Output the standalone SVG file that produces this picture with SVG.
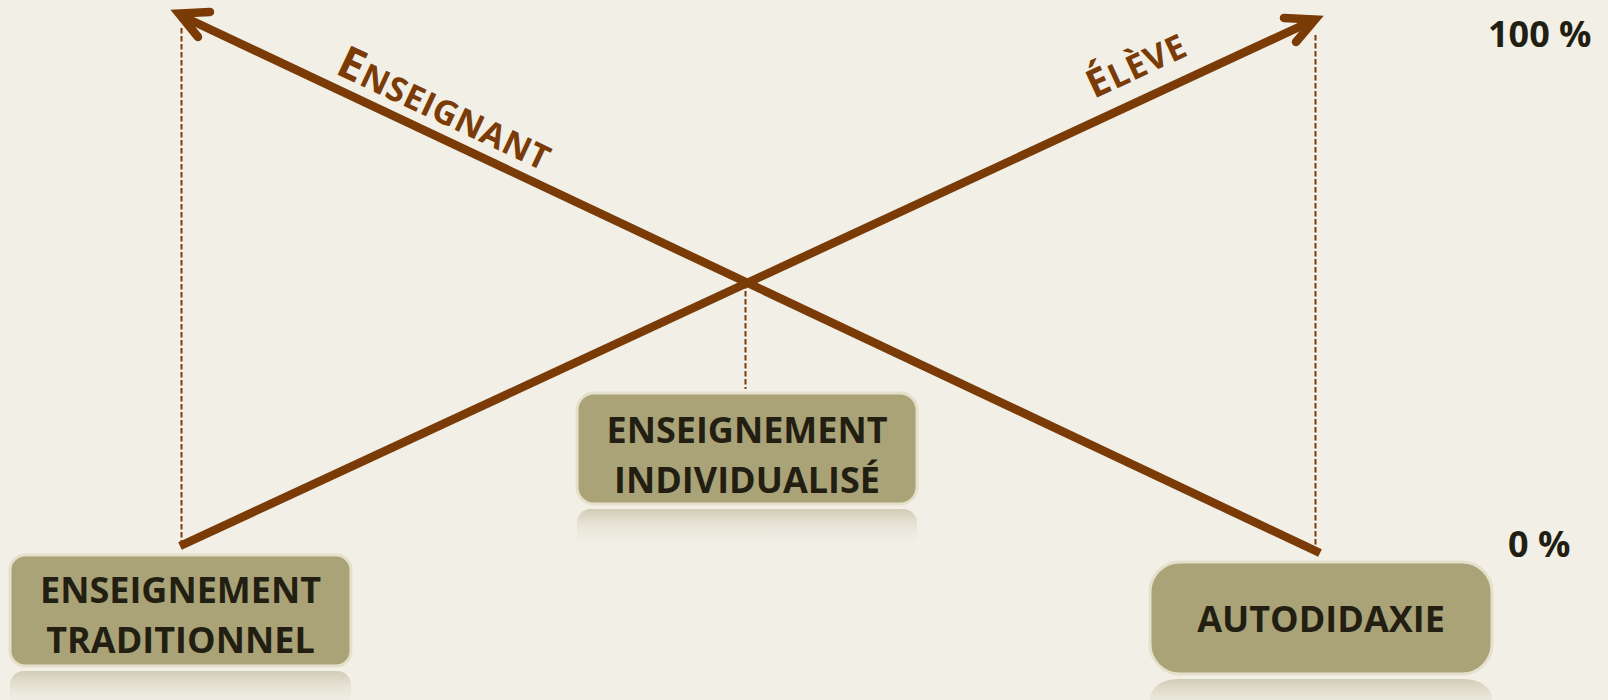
<svg xmlns="http://www.w3.org/2000/svg" width="1608" height="700" viewBox="0 0 1608 700">
<defs>
<linearGradient id="refl" x1="0" y1="0" x2="0" y2="1">
<stop offset="0" stop-color="#cdc8b0" stop-opacity="0.9"/>
<stop offset="1" stop-color="#f2efe7" stop-opacity="0"/>
</linearGradient>
<style>
.box{fill:#aba378;stroke:#e4e0cb;stroke-width:3}
.lbl{font-family:"Open Sans","Noto Sans",sans-serif;font-weight:700;font-size:36px;fill:#221f12;text-anchor:middle}
.pct{font-family:"Open Sans","Noto Sans",sans-serif;font-weight:700;font-size:36px;fill:#221f12}
.axis{font-family:"Open Sans","Noto Sans",sans-serif;font-weight:700;fill:#7a3b06}
.shaft{stroke:#7a3b06;stroke-width:8.5;fill:none;stroke-linecap:butt}
.head{stroke:#7a3b06;stroke-width:8.5;fill:none;stroke-linecap:round;stroke-linejoin:miter;stroke-miterlimit:10}
.dash{stroke:#7a3b06;stroke-width:2;fill:none;stroke-dasharray:5.5 2.5}
</style>
</defs>
<rect width="1608" height="700" fill="#f2efe7"/>
<g id="connectors">
<line class="dash" x1="181.5" y1="28" x2="181.5" y2="541"/>
<line class="dash" x1="1315.5" y1="35" x2="1315.5" y2="547"/>
<line class="dash" x1="745.5" y1="283" x2="745.5" y2="389"/>
<line class="shaft" x1="1320" y1="553" x2="184" y2="17"/>
<path class="head" d="M210,12 L179,13.5 L198,37"/>
<line class="shaft" x1="180" y1="546" x2="1312" y2="21"/>
<path class="head" d="M1284,18 L1315,19.5 L1296,42"/>
</g>
<g id="label-enseignant">
<text class="axis" transform="translate(334,73) rotate(25.2)"><tspan font-size="45" letter-spacing="1">E</tspan><tspan font-size="34" letter-spacing="0.6">NSEIGNANT</tspan></text>
</g>
<g id="label-eleve">
<text class="axis" transform="translate(1094,99) rotate(-24.9)"><tspan font-size="39" letter-spacing="1">É</tspan><tspan font-size="34" letter-spacing="0.8">LÈVE</tspan></text>
</g>
<g id="node-traditionnel">
<rect x="10" y="671" width="341" height="40" fill="url(#refl)" rx="14"/>
<rect class="box" x="10" y="555" width="341" height="111" rx="15"/>
<text class="lbl" x="180.5" y="603">ENSEIGNEMENT</text>
<text class="lbl" x="180.5" y="653">TRADITIONNEL</text>
</g>
<g id="node-individualise">
<rect x="577" y="509" width="340" height="40" fill="url(#refl)" rx="14"/>
<rect class="box" x="577" y="393" width="340" height="111" rx="17"/>
<text class="lbl" x="747" y="443">ENSEIGNEMENT</text>
<text class="lbl" x="747" y="493">INDIVIDUALISÉ</text>
</g>
<g id="node-autodidaxie">
<rect x="1150" y="679" width="342" height="40" fill="url(#refl)" rx="28"/>
<rect class="box" x="1150" y="562" width="342" height="112" rx="30"/>
<text class="lbl" x="1321" y="632">AUTODIDAXIE</text>
</g>
<g id="scale">
<text class="pct" x="1488" y="47">100 %</text>
<text class="pct" x="1508" y="557">0 %</text>
</g>
</svg>
